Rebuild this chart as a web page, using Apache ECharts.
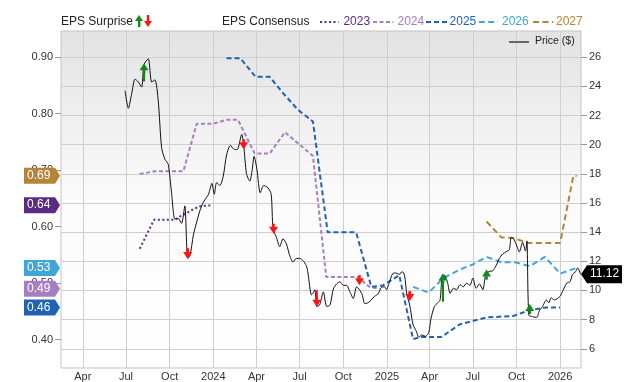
<!DOCTYPE html>
<html><head><meta charset="utf-8">
<script src="https://cdn.jsdelivr.net/npm/echarts@6/dist/echarts.min.js"></script>
<style>html,body{margin:0;padding:0;background:#fff}#c{width:640px;height:382px}</style>
</head><body><div id="c"></div>
<script>
// ---------------- DATA ----------------
const priceDates = ['2023-06-29','2023-07-06','2023-07-13','2023-07-20','2023-07-27','2023-08-03','2023-08-08','2023-08-17','2023-08-24','2023-08-31','2023-09-07','2023-09-14','2023-09-21','2023-09-28','2023-10-05','2023-10-12','2023-10-19','2023-10-26','2023-11-02','2023-11-08','2023-11-13','2023-11-20','2023-11-27','2023-12-04','2023-12-11','2023-12-18','2023-12-22','2023-12-29','2024-01-03','2024-01-08','2024-01-15','2024-01-22','2024-01-29','2024-02-06','2024-02-13','2024-02-20','2024-03-01','2024-03-05','2024-03-11','2024-03-18','2024-03-23','2024-03-27','2024-04-02','2024-04-09','2024-04-16','2024-04-25','2024-05-02','2024-05-06','2024-05-13','2024-05-20','2024-05-27','2024-06-03','2024-06-10','2024-06-17','2024-06-24','2024-07-01','2024-07-08','2024-07-15','2024-07-18','2024-07-26','2024-07-29','2024-08-02','2024-08-06','2024-08-12','2024-08-20','2024-08-27','2024-09-03','2024-09-10','2024-09-17','2024-09-24','2024-10-01','2024-10-08','2024-10-15','2024-10-22','2024-10-29','2024-11-04','2024-11-10','2024-11-15','2024-11-22','2024-11-29','2024-12-06','2024-12-13','2024-12-20','2024-12-27','2024-12-31','2025-01-06','2025-01-13','2025-01-20','2025-01-27','2025-02-02','2025-02-07','2025-02-12','2025-02-18','2025-02-25','2025-03-04','2025-03-09','2025-03-16','2025-03-23','2025-03-30','2025-04-04','2025-04-11','2025-04-18','2025-04-23','2025-04-28','2025-05-02','2025-05-09','2025-05-14','2025-05-21','2025-05-28','2025-06-04','2025-06-11','2025-06-18','2025-06-25','2025-07-01','2025-07-08','2025-07-15','2025-07-22','2025-07-28','2025-08-04','2025-08-12','2025-08-19','2025-08-26','2025-09-02','2025-09-09','2025-09-16','2025-09-20','2025-09-25','2025-09-30','2025-10-07','2025-10-14','2025-10-20','2025-10-23','2025-10-27','2025-11-04','2025-11-13','2025-11-18','2025-11-25','2025-12-03','2025-12-08','2025-12-13','2025-12-20','2026-01-01','2026-01-07','2026-01-15','2026-01-22','2026-01-27','2026-02-03','2026-02-07','2026-02-13'];
const priceValues = [23.7,22.5,23.5,24.5,24.3,23.95,25.5,25.9,24.3,24.45,23.0,19.8,19.0,18.65,16.7,14.9,14.95,14.6,15.8,12.2,12.4,13.8,14.7,15.5,16.05,16.4,16.6,17.35,16.6,17.4,17.2,17.85,19.3,19.95,19.7,19.65,20.7,20.0,18.0,17.5,18.3,19.2,18.3,16.7,17.2,17.05,16.6,14.2,13.65,13.0,13.55,13.2,12.4,11.95,12.2,12.2,12.05,11.7,11.3,9.7,9.8,10.05,8.9,9.0,9.9,8.9,9.0,10.1,10.45,10.6,10.35,10.35,9.9,9.45,10.25,10.05,9.7,9.1,9.15,9.35,9.6,9.75,10.2,10.25,10.05,10.55,11.15,11.2,11.1,11.3,11.05,9.7,9.0,7.65,7.2,6.8,6.95,6.85,7.1,8.1,8.9,9.15,9.35,11.05,11.05,10.5,9.8,10.15,10.05,10.4,10.25,10.5,10.35,10.85,10.15,10.45,10.05,11.05,11.3,11.35,11.7,12.2,12.5,12.65,12.8,13.65,13.55,13.2,12.65,13.3,12.7,13.4,8.3,8.2,8.15,8.6,8.9,9.35,9.15,9.5,9.35,9.6,10.0,10.5,10.6,11.1,11.3,11.55,11.12];

const eps2023Dates = ['2023-07-30','2023-08-29','2023-10-12','2023-10-23','2023-11-06','2023-11-20','2023-12-04','2023-12-31'];
const eps2023Values = [0.561,0.612,0.612,0.618,0.624,0.631,0.636,0.638];

const eps2024Dates = ['2023-07-30','2023-08-31','2023-10-30','2023-11-27','2024-01-01','2024-01-29','2024-02-22','2024-03-28','2024-04-29','2024-05-31','2024-07-29','2024-08-26','2024-11-01','2024-11-25','2024-12-16'];
const eps2024Values = [0.693,0.698,0.698,0.782,0.782,0.789,0.789,0.7295,0.7295,0.767,0.725,0.511,0.511,0.4935,0.49];

const eps2025Dates = ['2024-01-29','2024-02-27','2024-03-30','2024-04-29','2024-05-24','2024-06-27','2024-07-29','2024-08-29','2024-10-28','2024-11-29','2024-12-23','2025-01-27','2025-02-25','2025-03-14','2025-04-26','2025-06-03','2025-07-30','2025-09-24','2025-10-29','2025-12-03','2026-01-01'];
const eps2025Values = [0.898,0.898,0.865,0.865,0.839,0.807,0.786,0.590,0.590,0.4935,0.496,0.514,0.401,0.405,0.405,0.427,0.4395,0.442,0.4524,0.457,0.457];

const eps2026Dates = ['2025-02-25','2025-03-30','2025-04-29','2025-06-03','2025-07-01','2025-07-30','2025-08-30','2025-09-28','2025-10-29','2025-11-30','2026-01-01','2026-02-05'];
const eps2026Values = [0.4935,0.4835,0.5085,0.524,0.533,0.5465,0.537,0.537,0.530,0.5465,0.517,0.527];

const eps2027Dates = ['2025-07-30','2025-08-30','2025-09-24','2025-10-26','2026-01-01','2026-01-29','2026-02-05'];
const eps2027Values = [0.609,0.581,0.580,0.571,0.571,0.690,0.690];

const surpriseDates = ['2023-08-08','2023-11-08','2024-03-05','2024-05-07','2024-08-06','2024-11-04','2025-02-18','2025-04-29','2025-07-30','2025-10-29'];
const surpriseFrom = [24.34,12.9,20.18,14.38,10.02,10.82,9.86,9.23,10.89,8.66];
const surpriseTo   = [25.59,12.15,19.68,13.89,8.89,10.36,9.27,11.16,11.43,9.07];

const xTickDates = ['2023-04-01','2023-07-01','2023-10-01','2024-01-01','2024-04-01','2024-07-01','2024-10-01','2025-01-01','2025-04-01','2025-07-01','2025-10-01','2026-01-01'];
const epsTicks = [0.40,0.50,0.60,0.70,0.80,0.90];
const priceTicks = [6,8,10,12,14,16,18,20,22,24,26];
const xRange = ['2023-02-14','2026-02-14'];
const epsRange = [0.35,0.946];
const priceRange = [4.68,27.8];

// ---------------- HELPERS / STYLE ----------------
function t(s){const p=s.split('-').map(Number);return new Date(p[0],p[1]-1,p[2]).getTime();}
function pairs(ds,vs){return ds.map((d,i)=>[t(d),vs[i]]);}
const MON=['Jan','Feb','Mar','Apr','May','Jun','Jul','Aug','Sep','Oct','Nov','Dec'];
const epsStyles = [
  {name:'2023',dates:eps2023Dates,values:eps2023Values,color:'#5b2b84',type:[2,2.5]},
  {name:'2024',dates:eps2024Dates,values:eps2024Values,color:'#a67fc1',type:[4,2.5]},
  {name:'2025',dates:eps2025Dates,values:eps2025Values,color:'#2262b3',type:[5,3]},
  {name:'2026',dates:eps2026Dates,values:eps2026Values,color:'#3fa6d6',type:[6,3.5]},
  {name:'2027',dates:eps2027Dates,values:eps2027Values,color:'#b5843a',type:[6,3.5]}
];
const GREEN='#11891a', RED='#ff1414';

const chart = echarts.init(document.getElementById('c'),null,{renderer:'canvas'});
const series = [];
epsStyles.forEach(s=>{
  series.push({type:'line',name:s.name,yAxisIndex:0,data:pairs(s.dates,s.values),showSymbol:false,
    lineStyle:{color:s.color,width:2,type:s.type},z:3,silent:true,animation:false});
});
series.push({type:'line',name:'Price ($)',yAxisIndex:1,data:pairs(priceDates,priceValues),showSymbol:false,smooth:0.25,
  lineStyle:{color:'#111',width:1},z:4,animation:false,silent:true});
series.push({type:'custom',yAxisIndex:1,z:5,animation:false,silent:true,
  data:surpriseDates.map((d,i)=>[t(d),surpriseFrom[i],surpriseTo[i]]),
  encode:{x:0,y:[1,2]},
  renderItem:function(params,api){
    const a=api.coord([api.value(0),api.value(1)]), b=api.coord([api.value(0),api.value(2)]);
    const up=api.value(2)>api.value(1); const col=up?GREEN:RED; const dir=up?1:-1;
    const head=7, hw=4.5, x=b[0];
    const hb=b[1]+dir*head;
    const ch=[];
    if(Math.abs(b[1]-a[1])>head){
      ch.push({type:'line',shape:{x1:x,y1:a[1],x2:x,y2:hb},style:{stroke:col,lineWidth:2.2}});
    }
    ch.push({type:'polygon',shape:{points:[[x-hw,hb],[x+hw,hb],[x,b[1]]]},style:{fill:col}});
    ch.push({type:'rect',shape:{x:x-1.3,y:Math.min(hb,hb+dir*3),width:2.6,height:3},style:{fill:col}});
    return {type:'group',children:ch};
  }});

const option = {
  animation:false,
  backgroundColor:'#ffffff',
  grid:{left:61,right:59,top:31,bottom:12,show:true,borderColor:'#c4c4c4',borderWidth:1,
    backgroundColor:new echarts.graphic.LinearGradient(0,0,0,1,[{offset:0,color:'#e3e3e3'},{offset:0.5,color:'#fbfbfb'},{offset:1,color:'#ffffff'}])},
  xAxis:{type:'value',min:t(xRange[0]),max:t(xRange[1]),
    axisLine:{show:false},axisTick:{show:false,customValues:xTickDates.map(t)},
    splitLine:{show:true,lineStyle:{color:'#cfcfcf',width:1}},
    axisLabel:{customValues:xTickDates.map(t),margin:3,fontSize:11,color:'#333',fontFamily:'Liberation Sans, Arial, sans-serif',
      formatter:v=>{const d=new Date(v);return d.getMonth()===0?String(d.getFullYear()):MON[d.getMonth()];}}},
  yAxis:[
    {type:'value',position:'left',min:epsRange[0],max:epsRange[1],
      axisLine:{show:false},splitLine:{show:false},
      axisTick:{show:true,length:6,customValues:epsTicks,lineStyle:{color:'#999'}},
      axisLabel:{customValues:epsTicks,margin:8,fontSize:11,color:'#333',fontFamily:'Liberation Sans, Arial, sans-serif',formatter:v=>v.toFixed(2)}},
    {type:'value',position:'right',min:priceRange[0],max:priceRange[1],
      axisLine:{show:false},
      splitLine:{show:true,lineStyle:{color:'#cfcfcf',width:1}},
      axisTick:{show:true,length:6,customValues:priceTicks,lineStyle:{color:'#999'}},
      axisLabel:{customValues:priceTicks,margin:8,fontSize:11,color:'#333',fontFamily:'Liberation Sans, Arial, sans-serif',formatter:v=>String(v)}}
  ],
  series:series
};
chart.setOption(option);

// ---------------- LEGEND + TAGS ----------------
const F='Liberation Sans, Arial, sans-serif';
const g=[];
g.push({type:'text',left:61,top:16,style:{text:'EPS Surprise',font:'12px '+F,fill:'#222'},silent:true});
// legend arrows
g.push({type:'polygon',shape:{points:[[135,21],[143,21],[139,15]]},style:{fill:GREEN}});
g.push({type:'rect',shape:{x:138,y:21,width:2.4,height:6},style:{fill:GREEN}});
g.push({type:'polygon',shape:{points:[[144,21],[152,21],[148,27]]},style:{fill:RED}});
g.push({type:'rect',shape:{x:146.8,y:15,width:2.4,height:6},style:{fill:RED}});
g.push({type:'text',left:222,top:16,style:{text:'EPS Consensus',font:'12px '+F,fill:'#222'}});
const legX=[[320,338.5,343.4],[373,393.4,397.5],[426,447,449.6],[478.7,498,502],[533,553,556]];
epsStyles.forEach((s,i)=>{
  const L=legX[i];
  g.push({type:'line',shape:{x1:L[0],y1:22,x2:L[1],y2:22},style:{stroke:s.color,lineWidth:2,lineDash:s.type}});
  g.push({type:'text',left:L[2],top:16,style:{text:s.name,font:'12px '+F,fill:s.color}});
});
g.push({type:'line',shape:{x1:509,y1:42,x2:529,y2:42},style:{stroke:'#666',lineWidth:2}});
g.push({type:'text',left:535,top:36,style:{text:'Price ($)',font:'10.5px '+F,fill:'#222'}});
// left EPS tags (last values)
['2027','2023','2026','2024','2025'].forEach(n=>{
  const s=epsStyles.find(e=>e.name===n);
  const v=s.values[s.values.length-1];
  const y=chart.convertToPixel({yAxisIndex:0},v);
  g.push({type:'polygon',shape:{points:[[24,y-8],[55,y-8],[60,y],[55,y+8],[24,y+8]]},style:{fill:s.color},z:10});
  g.push({type:'text',x:27,y:y,z:11,style:{text:v.toFixed(2),font:'12px '+F,fill:'#fff',textVerticalAlign:'middle',verticalAlign:'middle'}});
});
// right price tag
const lastP=priceValues[priceValues.length-1];
const py=chart.convertToPixel({yAxisIndex:1},lastP);
g.push({type:'polygon',shape:{points:[[581,py],[587,py-9],[622,py-9],[622,py+9],[587,py+9]]},style:{fill:'#000'},z:10});
g.push({type:'text',x:590,y:py,z:11,style:{text:lastP.toFixed(2),font:'12px '+F,fill:'#fff',textVerticalAlign:'middle',verticalAlign:'middle'}});
chart.setOption({graphic:g});
</script></body></html>
